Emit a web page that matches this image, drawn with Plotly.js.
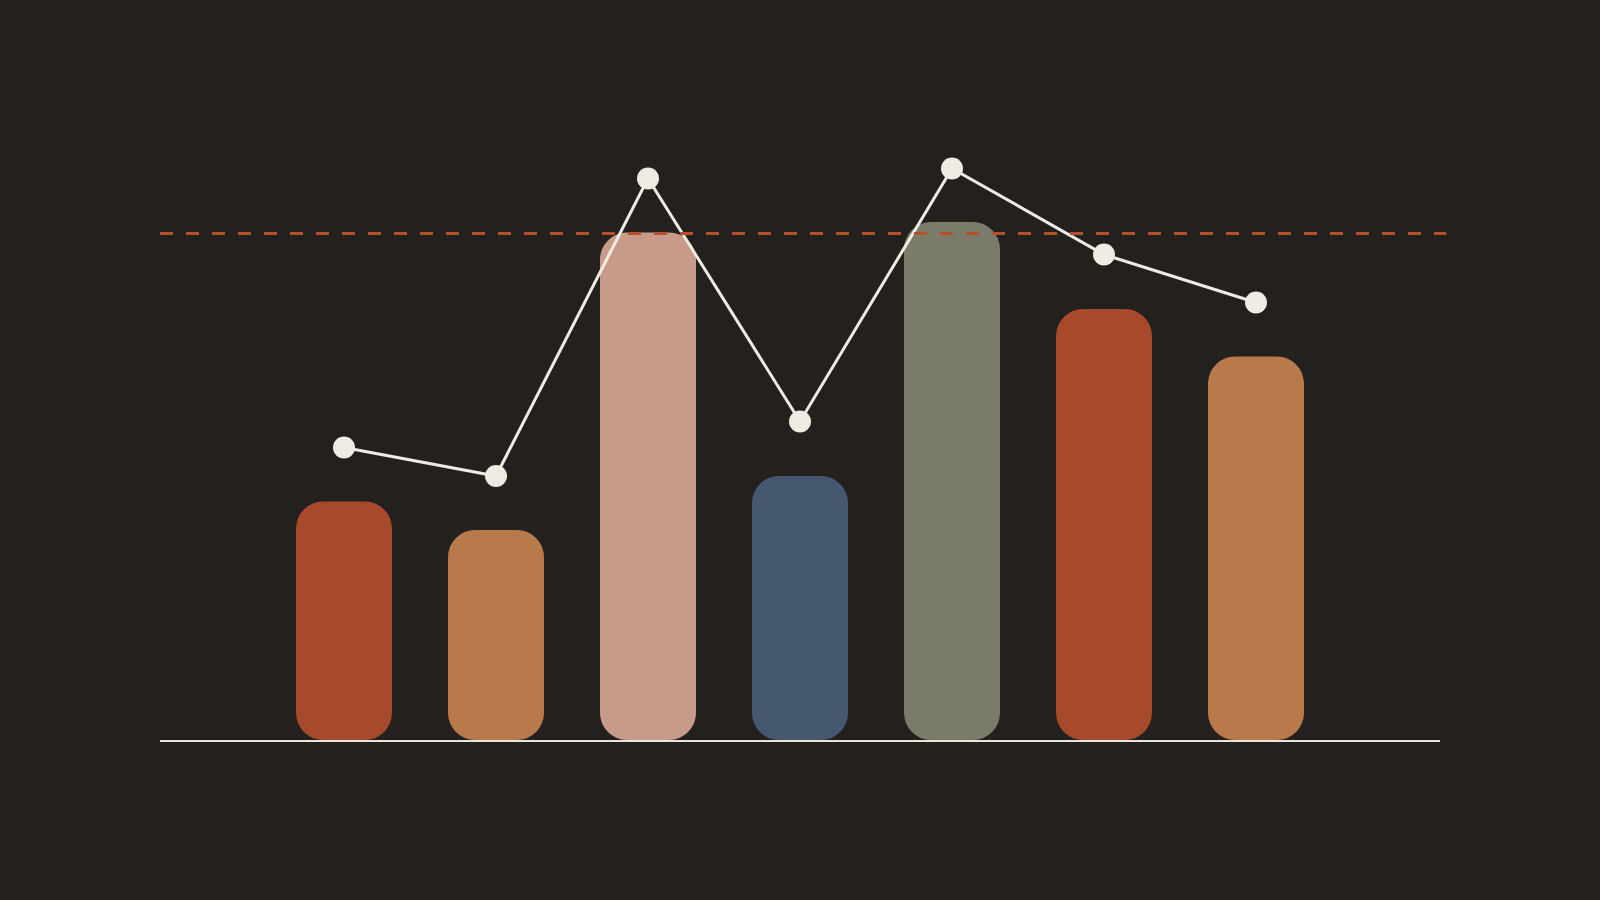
<!DOCTYPE html>
<html>
<head>
<meta charset="utf-8">
<script src="https://cdn.plot.ly/plotly-3.0.1.min.js"></script>
<style>
  html, body { margin:0; padding:0; background:#24201e; }
  #plot { width:1600px; height:900px; }
</style>
</head>
<body>
<div id="plot"></div>
<script>
// ======================= DATA =======================
const categories = ['A','B','C','D','E','F','G'];
const barValues = [47.7, 42, 101.5, 52.8, 103.6, 86.2, 76.7];
const lineValues = [58.5, 52.8, 112.3, 63.7, 114.3, 97.1, 87.5];
const targetValue = 101.3;
const barColors = ['#a64a2b','#b87a4b','#c79a8a','#46586d','#7a7b69','#a64a2b','#b87a4b'];

// ======================= PLOT =======================
// 152px per category, bars 96px wide so the edges land on whole pixels
const unitPx = 152;
const barWidth = 96 / unitPx;
const xStart = -184 / unitPx;
const xEnd = xStart + 1280 / unitPx;

// each bar is drawn as two overlapping parts so both ends get rounded corners
const upper = {
  x: categories, y: barValues.map(v => v*0.75), base: barValues.map(v => v*0.25),
  width: barWidth,
  type:'bar', marker:{color:barColors, cornerradius:27, line:{width:0}},
  hoverinfo:'skip', showlegend:false
};
const lower = {
  x: categories, y: barValues.map(v => -v*0.75), base: barValues.map(v => v*0.75),
  width: barWidth,
  type:'bar', marker:{color:barColors, cornerradius:27, line:{width:0}},
  hoverinfo:'skip', showlegend:false
};
const line = {
  x: categories, y: lineValues, type:'scatter', mode:'lines+markers',
  line:{color:'#efebe3', width:3},
  marker:{color:'#efebe3', size:22},
  hoverinfo:'skip', showlegend:false
};

const layout = {
  width:1600, height:900,
  paper_bgcolor:'#24201e', plot_bgcolor:'#24201e',
  margin:{l:160, r:160, t:90, b:160},
  barmode:'overlay',
  xaxis:{
    type:'category', range:[xStart, xEnd],
    showline:true, linecolor:'#e8e4dc', linewidth:1.5,
    showgrid:false, zeroline:false, showticklabels:false, ticks:''
  },
  yaxis:{
    range:[0,130], showline:false, showgrid:false, zeroline:false,
    showticklabels:false, ticks:''
  },
  shapes:[{
    type:'line', xref:'paper', x0:0, x1:1.005, yref:'y', y0:targetValue, y1:targetValue,
    line:{color:'#b4502f', width:3, dash:'13px,13px'}, layer:'above'
  }]
};

Plotly.newPlot('plot', [upper, lower, line], layout, {staticPlot:true, displayModeBar:false});
</script>
</body>
</html>
